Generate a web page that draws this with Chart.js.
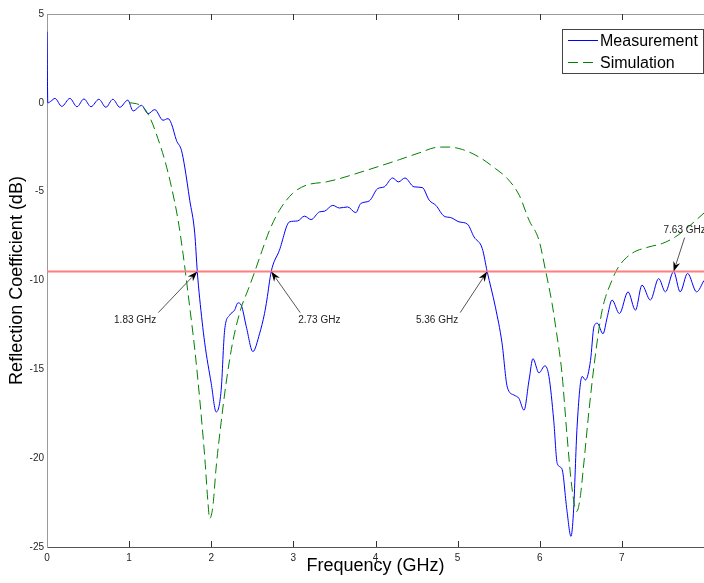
<!DOCTYPE html>
<html>
<head>
<meta charset="utf-8">
<script src="https://cdn.jsdelivr.net/npm/chart.js@4.4.1/dist/chart.umd.min.js"></script>
<style>
  html, body { margin: 0; padding: 0; background: #fff; }
  #wrap { width: 704px; height: 583px; }
</style>
</head>
<body>
<div id="wrap"><canvas id="chart" width="704" height="583"></canvas></div>
<script>
const measFreq = [0, 0.01, 0.05, 0.097, 0.18, 0.279, 0.365, 0.45, 0.535, 0.632, 0.717, 0.802, 0.887, 0.984, 1.049,
  1.151, 1.231, 1.312, 1.413, 1.474, 1.515, 1.576, 1.637, 1.677, 1.738, 1.799, 1.83, 1.859, 1.92, 2.0, 2.06,
  2.12, 2.163, 2.224, 2.284, 2.325, 2.366, 2.427, 2.507, 2.588, 2.649, 2.677, 2.73, 2.83, 2.953, 3.05, 3.135,
  3.216, 3.317, 3.378, 3.48, 3.56, 3.66, 3.76, 3.82, 3.925, 4.026, 4.107, 4.208, 4.28, 4.358, 4.47, 4.57,
  4.654, 4.735, 4.836, 4.917, 5.018, 5.12, 5.2, 5.3, 5.36, 5.46, 5.54, 5.605, 5.687, 5.747, 5.808, 5.87,
  5.917, 5.99, 6.063, 6.112, 6.17, 6.213, 6.27, 6.33, 6.38, 6.41, 6.455, 6.516, 6.557, 6.618, 6.66, 6.7,
  6.77, 6.82, 6.88, 6.97, 7.075, 7.165, 7.245, 7.347, 7.448, 7.53, 7.63, 7.71, 7.8, 7.91, 8.0];
const measDb = [4.0, 0.0, 0.1, 0.25, -0.2, 0.25, -0.22, 0.22, -0.22, 0.2, -0.25, 0.2, -0.25, 0.15, -0.46,
  -0.14, -0.61, -0.38, -0.98, -0.89, -1.17, -2.11, -2.67, -3.61, -5.48, -7.34, -9.5, -11.0, -13.5, -15.8, -17.4,
  -16.2, -12.8, -11.95, -11.67, -11.26, -11.4, -12.6, -14.0, -13.0, -11.85, -11.1, -9.5, -8.3, -6.7, -6.65, -6.38,
  -6.57, -6.14, -6.1, -5.77, -5.92, -5.86, -6.18, -5.67, -5.52, -4.83, -4.73, -4.23, -4.45, -4.23, -4.73, -4.77,
  -5.48, -5.77, -6.38, -6.46, -6.7, -6.83, -7.55, -8.2, -9.5, -11.5, -13.5, -16.0, -16.45, -16.64, -17.3, -15.6,
  -14.4, -15.2, -14.8, -15.4, -17.86, -20.3, -20.6, -22.9, -24.4, -23.1, -18.2, -15.4, -15.6, -14.5, -12.6, -12.4,
  -13.0, -12.1, -11.1, -11.86, -10.64, -11.67, -10.26, -11.1, -9.89, -10.64, -9.5, -10.64, -9.6, -10.64, -10.0];

// simulated S11
const simFreq = [1.0, 1.09, 1.17, 1.25, 1.35, 1.434, 1.515, 1.596, 1.656, 1.738, 1.8, 1.86, 1.92, 1.96, 1.98,
  2.02, 2.06, 2.12, 2.18, 2.26, 2.36, 2.45, 2.53, 2.62, 2.71, 2.83, 2.99, 3.155, 3.4, 3.56, 3.8, 4.046, 4.29,
  4.53, 4.775, 4.897, 5.06, 5.26, 5.46, 5.605, 5.75, 5.87, 5.99, 6.07, 6.15, 6.2, 6.27, 6.33, 6.39, 6.45, 6.49,
  6.53, 6.6, 6.68, 6.76, 6.88, 6.96, 7.12, 7.33, 7.49, 7.65, 7.81, 8.0];
const simDb = [0.0, -0.05, -0.24, -0.8, -2.0, -3.23, -4.73, -6.6, -8.48, -11.5, -13.9, -16.7, -19.9, -22.5, -23.4,
  -22.7, -20.5, -18.0, -15.8, -13.5, -11.6, -10.5, -9.5, -8.3, -7.17, -6.05, -5.1, -4.64, -4.45, -4.27, -3.93, -3.57, -3.2,
  -2.82, -2.49, -2.49, -2.63, -3.05, -3.7, -4.26, -5.2, -6.61, -7.73, -9.42, -11.3, -12.8, -15.2, -18.6, -21.6, -23.0, -22.3,
  -20.6, -17.3, -14.1, -11.67, -9.98, -9.23, -8.48, -8.11, -7.92, -7.55, -6.98, -6.2];

const threshold = -9.5;
const xRange = [0, 8];
const yRange = [-25, 5];
const markerFreq = [1.83, 2.73, 5.36, 7.63];
const markerText = ["1.83 GHz", "2.73 GHz", "5.36 GHz", "7.63 GHz"];

const FONT = '"Liberation Sans", Arial, sans-serif';
const toPts = (xs, ys) => xs.map((x, i) => ({ x: x, y: ys[i] }));

// tail offset from arrow head (px), text anchor
const arrowStyle = [
  { dx: -39, dy: 41, align: "right", tx: -2, ty: 8 },
  { dx: 29, dy: 41, align: "left", tx: -2, ty: 8 },
  { dx: -27, dy: 41, align: "right", tx: -2, ty: 8 },
  { dx: 11, dy: -34, align: "center", tx: 0, ty: -7 }
];

const extras = {
  id: "extras",
  afterDatasetsDraw(chart) {
    const { ctx, chartArea: a, scales: { x, y } } = chart;
    ctx.save();
    // top box line + inward ticks
    ctx.strokeStyle = "#9a9a9a";
    ctx.lineWidth = 1;
    ctx.beginPath();
    ctx.moveTo(a.left, a.top + 0.5);
    ctx.lineTo(a.right, a.top + 0.5);
    ctx.stroke();
    ctx.strokeStyle = "#333";
    x.ticks.forEach(t => {
      if (t.value <= xRange[0] || t.value >= xRange[1]) return;
      const px = Math.round(x.getPixelForValue(t.value)) + 0.5;
      ctx.beginPath();
      ctx.moveTo(px, a.bottom);
      ctx.lineTo(px, a.bottom - 6);
      ctx.moveTo(px, a.top);
      ctx.lineTo(px, a.top + 6);
      ctx.stroke();
    });

    // arrows with labels
    ctx.font = "10px " + FONT;
    ctx.textBaseline = "middle";
    markerFreq.forEach((f, i) => {
      const s = arrowStyle[i];
      const hx = x.getPixelForValue(f), hy = y.getPixelForValue(threshold);
      const tx = hx + s.dx, ty = hy + s.dy;
      const ang = Math.atan2(hy - ty, hx - tx);
      ctx.strokeStyle = "#555";
      ctx.beginPath();
      ctx.moveTo(tx, ty);
      ctx.lineTo(hx - 8 * Math.cos(ang), hy - 8 * Math.sin(ang));
      ctx.stroke();
      ctx.fillStyle = "#000";
      ctx.beginPath();
      ctx.moveTo(hx, hy);
      ctx.lineTo(hx - 10 * Math.cos(ang) + 3.5 * Math.sin(ang), hy - 10 * Math.sin(ang) - 3.5 * Math.cos(ang));
      ctx.lineTo(hx - 7 * Math.cos(ang), hy - 7 * Math.sin(ang));
      ctx.lineTo(hx - 10 * Math.cos(ang) - 3.5 * Math.sin(ang), hy - 10 * Math.sin(ang) + 3.5 * Math.cos(ang));
      ctx.closePath();
      ctx.fill();
      ctx.fillStyle = "#222";
      ctx.textAlign = s.align;
      ctx.fillText(markerText[i], tx + s.tx, ty + s.ty);
    });

    // legend box
    const lx = 562, ly = 29, lw = 141, lh = 44;
    ctx.fillStyle = "#fff";
    ctx.fillRect(lx, ly, lw, lh);
    ctx.strokeStyle = "#444";
    ctx.strokeRect(lx + 0.5, ly + 0.5, lw, lh);
    ctx.font = "16px " + FONT;
    ctx.textAlign = "left";
    ctx.fillStyle = "#000";
    chart.data.datasets.filter(d => d.inLegend).reverse().forEach((d, i) => {
      const yy = ly + 11.5 + i * 22;
      ctx.strokeStyle = d.borderColor;
      ctx.setLineDash(d.borderDash || []);
      ctx.beginPath();
      ctx.moveTo(lx + 6, yy);
      ctx.lineTo(lx + 36, yy);
      ctx.stroke();
      ctx.setLineDash([]);
      ctx.fillText(d.label, lx + 38, yy + 1);
    });
    ctx.restore();
  }
};

new Chart(document.getElementById("chart"), {
  type: "line",
  data: {
    datasets: [
      { label: "Threshold", data: toPts(xRange, [threshold, threshold]), borderColor: "#ff7f7f", borderWidth: 2,
        pointRadius: 0, tension: 0, order: 0 },
      { label: "Simulation", inLegend: true, data: toPts(simFreq, simDb), borderColor: "#008000", borderWidth: 1,
        borderDash: [10, 5], pointRadius: 0, cubicInterpolationMode: "monotone", order: 1 },
      { label: "Measurement", inLegend: true, data: toPts(measFreq, measDb), borderColor: "#0000ff", borderWidth: 1,
        pointRadius: 0, cubicInterpolationMode: "monotone", order: 2 }
    ]
  },
  options: {
    responsive: false,
    animation: false,
    devicePixelRatio: 1,
    layout: { padding: { top: 14, right: 0, left: 0, bottom: 0 } },
    plugins: { legend: { display: false }, tooltip: { enabled: false } },
    scales: {
      x: {
        type: "linear", min: xRange[0], max: xRange[1],
        grid: { display: false, drawTicks: false },
        border: { display: true, color: "#555" },
        ticks: { stepSize: 1, padding: 5, color: "#262626", font: { size: 10, family: FONT },
          callback: v => (v >= xRange[1] ? "" : v) },
        title: { display: true, text: "Frequency (GHz)", color: "#000", font: { size: 18, family: FONT, lineHeight: 1.2 },
          padding: { top: 6, bottom: 6 } },
        afterFit: s => { s.height = 36; s.paddingLeft = 0; s.paddingRight = 0; }
      },
      y: {
        min: yRange[0], max: yRange[1],
        grid: { display: false, drawTicks: false },
        border: { display: true, color: "#9a9a9a" },
        ticks: { stepSize: 5, padding: 3, color: "#262626", font: { size: 10, family: FONT } },
        title: { display: true, text: "Reflection Coefficient (dB)", color: "#000", font: { size: 18, family: FONT, lineHeight: 1.2 },
          padding: { top: 6, bottom: 6 } },
        afterFit: s => { s.width = 47; s.paddingTop = 0; s.paddingBottom = 0; }
      }
    }
  },
  plugins: [extras]
});
</script>
</body>
</html>
